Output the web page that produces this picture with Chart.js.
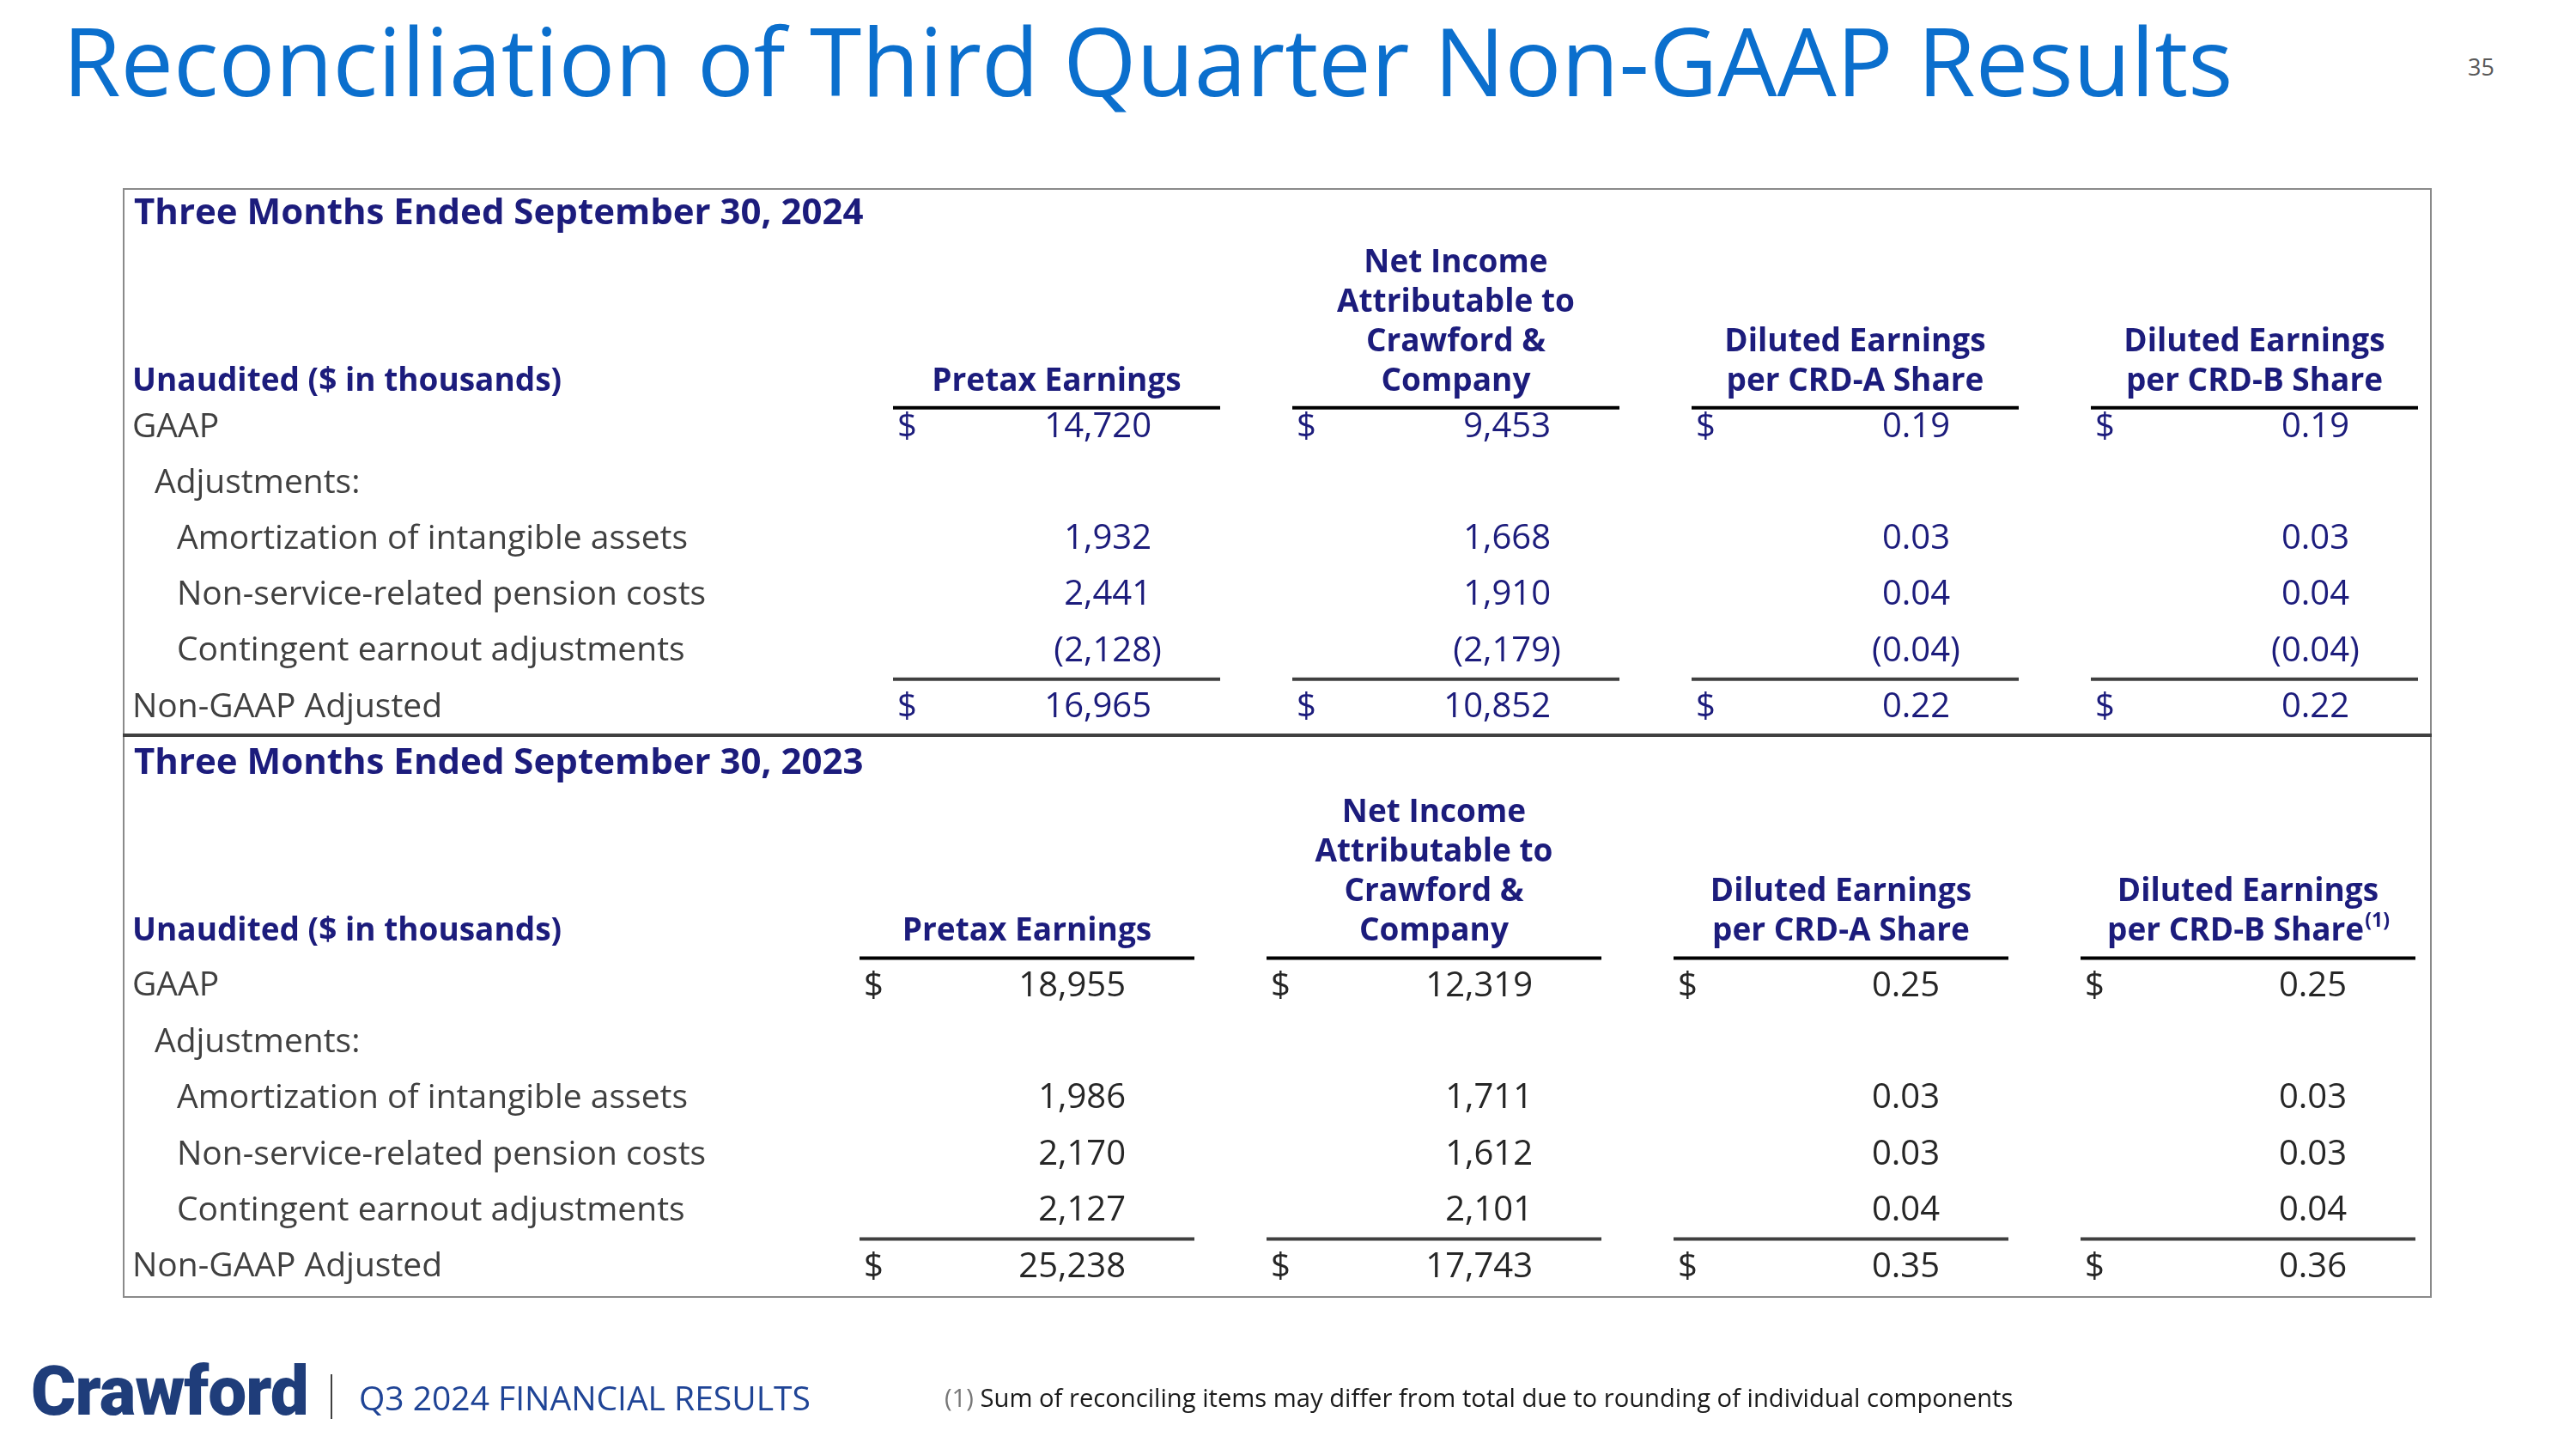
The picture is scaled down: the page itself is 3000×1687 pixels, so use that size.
<!DOCTYPE html>
<html lang="en">
<head>
<meta charset="UTF-8">
<title>Reconciliation of Third Quarter Non-GAAP Results</title>
<script src="https://cdn.jsdelivr.net/npm/chart.js"></script>
<style>
    html, body { margin: 0; padding: 0; background: #fff; }
    body {
        width: 3000px; height: 1687px;
        position: relative; overflow: hidden;
        font-family: 'Open Sans', 'Noto Sans', sans-serif;
    }
    .title {
        position: absolute; left: 73px; top: 15px;
        font-size: 109.5px; line-height: 1; color: #0B6FCD;
        white-space: nowrap;
    }
    .page-num {
        position: absolute; left: 2874px; top: 64px;
        font-size: 27px; line-height: 1; color: #595959;
    }
    .table-box {
        position: absolute; left: 143px; top: 219px;
        width: 2685px; height: 1288px;
        border: 2px solid #8a8a8a;
    }
    canvas.layer { position: absolute; left: 0; top: 0; }
    .logo {
        position: absolute; left: 36px; top: 1580px;
        font-family: Roboto, 'Liberation Sans', sans-serif;
        font-weight: 900; font-size: 80px; line-height: 1;
        color: #1F3D7A; letter-spacing: -1px;
    }
    .sep {
        position: absolute; left: 385px; top: 1600px;
        width: 2px; height: 52px; background: #404040;
    }
    .deck {
        position: absolute; left: 418px; top: 1607px;
        font-size: 39px; line-height: 1; color: #1F4496; white-space: nowrap;
    }
    .footnote {
        position: absolute; left: 1100px; top: 1613px;
        font-size: 29.2px; line-height: 1; color: #1a1a1a; white-space: nowrap;
    }
    .footnote span { color: #777; }
</style>
</head>
<body>
    <div class="title">Reconciliation of Third Quarter Non-GAAP Results</div>
    <div class="page-num">35</div>
    <div class="table-box"></div>
    <canvas id="table2024" class="layer" width="3000" height="1687"></canvas>
    <canvas id="table2023" class="layer" width="3000" height="1687"></canvas>
    <div class="logo">Crawford</div>
    <div class="sep"></div>
    <div class="deck">Q3 2024 FINANCIAL RESULTS</div>
    <div class="footnote"><span>(1)</span> Sum of reconciling items may differ from total due to rounding of individual components</div>

<script>
// Data
const rowLabels = ['GAAP', 'Adjustments:', 'Amortization of intangible assets', 'Non-service-related pension costs', 'Contingent earnout adjustments', 'Non-GAAP Adjusted'];
const rowIndent = [0, 1, 2, 2, 2, 0];
const dollarRows = ['GAAP', 'Non-GAAP Adjusted'];
const columnKeys = ['item', 'item2', 'pretax', 'netIncome', 'epsA', 'epsB'];
const columnHeaders = [
    ['Pretax Earnings'],
    ['Net Income', 'Attributable to', 'Crawford &', 'Company'],
    ['Diluted Earnings', 'per CRD-A Share'],
    ['Diluted Earnings', 'per CRD-B Share']
];
const columnDecimals = [0, 0, 2, 2];

const pretax2024 = [14720, null, 1932, 2441, -2128, 16965];
const netIncome2024 = [9453, null, 1668, 1910, -2179, 10852];
const epsA2024 = [0.19, null, 0.03, 0.04, -0.04, 0.22];
const epsB2024 = [0.19, null, 0.03, 0.04, -0.04, 0.22];

const pretax2023 = [18955, null, 1986, 2170, 2127, 25238];
const netIncome2023 = [12319, null, 1711, 1612, 2101, 17743];
const epsA2023 = [0.25, null, 0.03, 0.03, 0.04, 0.35];
const epsB2023 = [0.25, null, 0.03, 0.03, 0.04, 0.36];

const rowKeys = ['section', 'spacer1', 'spacer2', 'header'].concat(rowLabels);

// Layout / style
const FONT = "'Open Sans', 'Noto Sans', sans-serif";
const boxLeft = 143, boxRight = 2832;
const labelX = 154, indentStep = 26;
const lineInset = 42, numPad = 122, dollarPad = 5;
const headerLineH = 46;

function fmt(v, dec) {
    const a = Math.abs(v);
    return dec ? a.toFixed(dec) : a.toLocaleString('en-US');
}

function tablePlugin(cfg) {
    return {
        id: 'tableText',
        afterDatasetsDraw(chart) {
            const ctx = chart.ctx;
            const x = chart.scales.x, y = chart.scales.y;
            const cellW = Math.abs(x.getPixelForValue(1) - x.getPixelForValue(0));
            const rowH = Math.abs(y.getPixelForValue(1) - y.getPixelForValue(0));
            ctx.save();

            // section title
            ctx.fillStyle = cfg.headColor;
            ctx.textBaseline = 'middle';
            ctx.textAlign = 'left';
            ctx.font = 'bold 42px ' + FONT;
            ctx.fillText(cfg.title, labelX + 2, y.getPixelForValue('section') + cfg.headShift);

            // column header block
            const headY = y.getPixelForValue('header') + cfg.headShift;
            ctx.font = 'bold 37px ' + FONT;
            ctx.fillText('Unaudited ($ in thousands)', labelX, headY);
            columnHeaders.forEach((lines, j) => {
                const cx = x.getPixelForValue(columnKeys[j + 2]);
                lines.forEach((line, k) => {
                    const ly = headY - (lines.length - 1 - k) * headerLineH;
                    const note = (k === lines.length - 1 && cfg.notes) ? cfg.notes[j] : '';
                    ctx.font = 'bold 37px ' + FONT;
                    const w = ctx.measureText(line).width;
                    ctx.font = 'bold 23px ' + FONT;
                    const nw = note ? ctx.measureText(note).width : 0;
                    const start = cx - (w + nw) / 2;
                    ctx.textAlign = 'left';
                    ctx.font = 'bold 37px ' + FONT;
                    ctx.fillText(line, start, ly);
                    if (note) {
                        ctx.font = 'bold 23px ' + FONT;
                        ctx.fillText(note, start + w + 1, ly - 12);
                    }
                });
            });

            // row labels
            ctx.textAlign = 'left';
            ctx.font = '39px ' + FONT;
            ctx.fillStyle = '#404040';
            rowLabels.forEach((r, i) => {
                ctx.fillText(r, labelX + rowIndent[i] * indentStep, y.getPixelForValue(r));
            });

            // rules under header and above totals
            const rules = [
                { y: y.getPixelForValue('header') + rowH / 2 + cfg.ruleShift, color: '#000000' },
                { y: y.getPixelForValue('Contingent earnout adjustments') + rowH / 2, color: '#404040' }
            ];
            ctx.lineWidth = 4;
            rules.forEach(rule => {
                ctx.strokeStyle = rule.color;
                for (let j = 2; j < columnKeys.length; j++) {
                    const cx = x.getPixelForValue(columnKeys[j]);
                    const x0 = cx - cellW / 2 + lineInset;
                    const x1 = Math.min(cx + cellW / 2 - lineInset, boxRight);
                    ctx.beginPath();
                    ctx.moveTo(x0, rule.y);
                    ctx.lineTo(x1, rule.y);
                    ctx.stroke();
                }
            });

            // section divider
            if (cfg.divider) {
                const dy = y.getPixelForValue('Non-GAAP Adjusted') + rowH / 2;
                ctx.strokeStyle = '#404040';
                ctx.beginPath();
                ctx.moveTo(boxLeft, dy);
                ctx.lineTo(boxRight, dy);
                ctx.stroke();
            }

            // values
            ctx.font = '40px ' + FONT;
            ctx.fillStyle = cfg.valueColor;
            chart.data.datasets.forEach((ds, j) => {
                const meta = chart.getDatasetMeta(j);
                meta.data.forEach((pt, i) => {
                    const d = ds.data[i];
                    const right = pt.x + cellW / 2 - numPad;
                    const txt = fmt(d.v, columnDecimals[j]);
                    ctx.textAlign = 'right';
                    if (d.v < 0) {
                        const pw = ctx.measureText(')').width;
                        ctx.fillText('(' + txt + ')', right + pw, pt.y);
                    } else {
                        ctx.fillText(txt, right, pt.y);
                    }
                    if (dollarRows.includes(d.y)) {
                        ctx.textAlign = 'left';
                        ctx.fillText('$', pt.x - cellW / 2 + lineInset + dollarPad, pt.y);
                    }
                });
            });
            ctx.restore();
        }
    };
}

function buildTable(id, series, cfg) {
    const datasets = series.map((vals, j) => ({
        label: columnKeys[j + 2],
        data: rowLabels.map((r, i) => ({ x: columnKeys[j + 2], y: r, v: vals[i] }))
                       .filter(d => d.v !== null),
        pointRadius: 0,
        pointHoverRadius: 0
    }));
    return new Chart(document.getElementById(id), {
        type: 'scatter',
        data: { datasets: datasets },
        options: {
            responsive: false,
            animation: false,
            events: [],
            layout: { padding: cfg.padding },
            scales: {
                x: { type: 'category', labels: columnKeys, offset: true, display: false },
                y: { type: 'category', labels: rowKeys, offset: true, display: false }
            },
            plugins: {
                legend: { display: false },
                tooltip: { enabled: false }
            }
        },
        plugins: [tablePlugin(cfg)]
    });
}

buildTable('table2024', [pretax2024, netIncome2024, epsA2024, epsB2024], {
    title: 'Three Months Ended September 30, 2024',
    headColor: '#1C1C7C',
    valueColor: '#1C1C7C',
    divider: true,
    headShift: 12,
    ruleShift: 10,
    padding: { left: 68, right: 142, top: 204, bottom: 831 }
});

buildTable('table2023', [pretax2023, netIncome2023, epsA2023, epsB2023], {
    title: 'Three Months Ended September 30, 2023',
    headColor: '#1C1C7C',
    valueColor: '#262626',
    notes: ['', '', '', '(1)'],
    headShift: 2,
    ruleShift: 0,
    padding: { left: 11, right: 145, top: 854, bottom: 179 }
});
</script>
</body>
</html>
